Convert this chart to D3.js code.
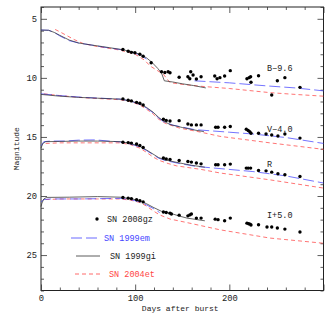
<!DOCTYPE html>
<html lang="en">
<head>
<meta charset="UTF-8">
<title>SN 2008gz light curves</title>
<script src="https://d3js.org/d3.v7.min.js"></script>
<style>
    body { margin: 0; background: #fff; }
    text { font-family: "Liberation Mono", "DejaVu Sans Mono", monospace; font-size: 8px; fill: #222; }
    .domain { display: none; }
    .tick line { stroke: #333; stroke-width: 0.8px; }
</style>
</head>
<body>
<svg width="331" height="331"></svg>
<script>
    // SN 2008gz photometry (B-9.6, V-4.0, R, I+5.0)
    const dotsB = [[87,7.6],[92.6,7.75],[96,7.84],[99.7,7.87],[105,8.0],[108.5,8.17],[117,8.72],[128,9.48],[131.5,9.55],[135,9.48],[137,9.56],[146.7,9.95],[156,9.9],[158,10.07],[159,9.48],[161.5,9.76],[165,10.1],[170,9.9],[184.5,9.84],[187,10.07],[190,9.98],[195,9.84],[201,9.39],[218.7,10.07],[221,9.98],[222.6,9.9],[223,10.37],[231,9.82],[245,11.45],[251,10.24],[259,9.98],[275,10.8]];
    const dotsV = [[87,11.78],[92.6,11.9],[96,11.95],[101.5,12.07],[105,12.15],[108.5,12.3],[130,13.5],[133,13.6],[137,13.65],[146.7,13.62],[156,13.9],[159.7,13.98],[165,13.98],[170,13.98],[185.5,14.18],[188,14.18],[195,14.18],[201,14.12],[218,14.35],[220,14.46],[221.6,14.55],[223,14.69],[231,14.69],[239,14.75],[245,14.83],[251.6,14.92],[259,14.75],[275,15.1]];
    const dotsR = [[87,15.45],[92.6,15.48],[96,15.52],[101.5,15.6],[105,15.72],[108.5,15.9],[130,16.78],[133,16.86],[137,16.9],[146.7,17.0],[156,17.08],[159.7,17.13],[165,17.2],[170,17.28],[185.5,17.36],[188,17.36],[195,17.36],[201,17.3],[218,17.64],[220,17.64],[222.6,17.64],[231,17.84],[239,17.87],[245,17.98],[251.6,18.12],[259,18.2],[275,18.35]];
    const dotsI = [[87,20.13],[92.6,20.18],[96,20.22],[101.5,20.32],[105,20.4],[108.5,20.5],[130,21.36],[133,21.4],[137,21.45],[138.5,21.53],[146.7,21.62],[156,21.68],[158,21.6],[159.7,21.53],[165,21.87],[170,21.87],[185,21.96],[188,22.0],[195,22.1],[201,21.87],[218.7,22.3],[220.5,22.35],[222,22.38],[223,22.46],[231,22.44],[240,22.63],[245,22.63],[251,22.71],[259,22.8],[275,23.05]];

    // SN 1999em (null = gap)
    const em = [
        [[0,5.95],[8,5.97],[14,6.15],[20,6.45],[30,6.85],[40,7.05],[52,7.2],[65,7.38],[84,7.6],[95,7.8],[105,8.05],[112,8.4],null,[163,10.25],[200,10.42],[240,10.68],[270,10.85],[300,11.1]],
        [[0,11.35],[20,11.5],[45,11.65],[84,11.8],[95,11.95],[105,12.25],[112,12.55],[119,12.95],[125,13.4],[130,13.7],[140,14.0],[163,14.38],[200,14.6],[225,14.75],[260,15.05],[300,15.55]],
        [[0,15.75],[3,15.4],[10,15.35],[25,15.35],[40,15.27],[58,15.25],[72,15.35],[84,15.42],[95,15.6],[105,15.85],[112,16.15],[119,16.5],[125,16.8],[132,17.0],[147,17.25],[165,17.5],[225,17.93],[260,18.3],[300,18.9]],
        [[0,20.5],[3,20.3],[10,20.25],[40,20.25],[84,20.2],[95,20.3],[105,20.5],[112,20.75],[119,21.05],[126,21.4]]
    ];
    // SN 1999gi
    const gi = [
        [[0,5.95],[8,5.97],[14,6.15],[20,6.4],[30,6.8],[40,7.05],[52,7.2],[65,7.35],[84,7.58],[95,7.75],[105,8.0],[112,8.3],[118,8.7],[124,9.2],[128,9.6],[131,10.25],[140,10.35],[150,10.5],[162,10.65],[175,10.85]],
        [[0,11.4],[20,11.55],[40,11.65],[60,11.72],[84,11.8],[95,11.95],[105,12.2],[112,12.5],[119,12.9],[125,13.35],[130,13.65],[137,13.95],[150,14.2],[162,14.4],[173,14.55]],
        [[0,15.95],[2,15.55],[5,15.4],[20,15.38],[40,15.35],[60,15.35],[84,15.4],[95,15.55],[105,15.8],[112,16.1],[119,16.45],[125,16.75],[132,16.95],[147,17.2],[160,17.4],[174,17.56]],
        [[0,20.9],[1,20.6],[3,20.25],[6,20.12],[30,20.1],[60,20.05],[84,20.1],[95,20.22],[105,20.4],[112,20.65],[119,20.95],[128,21.3],[137,21.45],[147,21.7],[155,21.87],[174,22.1]]
    ];
    // SN 2004et
    const et = [
        [[15,5.9],[20,6.1],[27,6.4],[35,6.75],[45,7.1],[60,7.35],[84,7.65],[100,8.0],[110,8.5],[116,9.0],[123,9.35],[130,9.7],[137,10.4],[150,10.55],[168,10.7],[200,10.9],[243,11.25],[270,11.4],[300,11.55]],
        [[3,11.35],[20,11.5],[45,11.68],[84,11.85],[95,12.0],[105,12.3],[112,12.65],[119,13.05],[125,13.5],[132,13.85],[147,14.25],[170,14.6],[190,14.95],[243,15.5],[300,16.05]],
        [[5,15.55],[20,15.5],[45,15.5],[84,15.5],[95,15.65],[105,15.95],[112,16.3],[119,16.7],[126,17.0],[135,17.25],[144,17.45],[170,17.75],[190,18.05],[243,18.63],[300,19.33]],
        [[5,20.3],[20,20.25],[60,20.25],[84,20.25],[95,20.35],[105,20.55],[112,20.85],[119,21.25],[126,21.6],[137,21.95],[155,22.25],[190,22.86],[243,23.56],[300,24.0]]
    ];

    const bandLabels = ["B\u22129.6", "V\u22124.0", "R", "I+5.0"];
    const bandLabelMags = [9.2, 14.3, 17.3, 21.6];
    const legendNames = ["SN 2008gz", "SN 1999em", "SN 1999gi", "SN 2004et"];

    const svg = d3.select("svg");
    const x = d3.scaleLinear().domain([0, 300]).range([41, 323.5]);
    const y = d3.scaleLinear().domain([4, 28]).range([7, 290.5]);

    const line = d3.line()
        .defined(d => d !== null)
        .x(d => x(d[0]))
        .y(d => y(d[1]));

    // frame
    svg.append("rect")
        .attr("x", x(0)).attr("y", y(4))
        .attr("width", x(300) - x(0)).attr("height", y(28) - y(4))
        .attr("fill", "none").attr("stroke", "#222").attr("stroke-width", 1);

    // axes: major + minor on all sides, ticks inward
    const xMajor = d3.range(0, 301, 100), xMinor = d3.range(0, 301, 20).filter(v => v % 100);
    const yMajor = d3.range(5, 26, 5), yMinor = d3.range(4, 29, 1).filter(v => v % 5);

    svg.append("g").attr("transform", `translate(0,${y(28)})`)
        .call(d3.axisBottom(x).tickValues(xMajor).tickSize(-6).tickPadding(4).tickFormat(d => d < 300 ? d : ""));
    svg.append("g").attr("transform", `translate(0,${y(28)})`)
        .call(d3.axisBottom(x).tickValues(xMinor).tickSize(-3).tickFormat(""));
    svg.append("g").attr("transform", `translate(0,${y(4)})`)
        .call(d3.axisTop(x).tickValues(xMajor).tickSize(-6).tickFormat(""));
    svg.append("g").attr("transform", `translate(0,${y(4)})`)
        .call(d3.axisTop(x).tickValues(xMinor).tickSize(-3).tickFormat(""));

    svg.append("g").attr("transform", `translate(${x(0)},0)`)
        .call(d3.axisLeft(y).tickValues(yMajor).tickSize(-6).tickPadding(4).tickFormat(d3.format("d")));
    svg.append("g").attr("transform", `translate(${x(0)},0)`)
        .call(d3.axisLeft(y).tickValues(yMinor).tickSize(-3).tickFormat(""));
    svg.append("g").attr("transform", `translate(${x(300)},0)`)
        .call(d3.axisRight(y).tickValues(yMajor).tickSize(-6).tickFormat(""));
    svg.append("g").attr("transform", `translate(${x(300)},0)`)
        .call(d3.axisRight(y).tickValues(yMinor).tickSize(-3).tickFormat(""));

    svg.selectAll(".tick text").style("font-size", "8.8px").attr("fill", "#222");

    // model curves
    const styles = [
        { data: et, color: "#ff4545", dash: "4,3" },
        { data: em, color: "#4545ff", dash: "11,4" },
        { data: gi, color: "#333", dash: null }
    ];
    styles.forEach(s => {
        svg.append("g").selectAll("path")
            .data(s.data)
            .enter().append("path")
            .attr("d", line)
            .attr("fill", "none")
            .attr("stroke", s.color)
            .attr("stroke-width", 0.75)
            .attr("stroke-dasharray", s.dash);
    });

    // observed points
    [dotsB, dotsV, dotsR, dotsI].forEach(ds => {
        svg.append("g").selectAll("circle")
            .data(ds)
            .enter().append("circle")
            .attr("cx", d => x(d[0]))
            .attr("cy", d => y(d[1]))
            .attr("r", 1.7)
            .attr("fill", "#000");
    });

    // band labels
    svg.append("g").selectAll("text")
        .data(bandLabels)
        .enter().append("text")
        .attr("x", 267)
        .attr("y", (d, i) => y(bandLabelMags[i]))
        .attr("dy", "0.35em")
        .style("font-size", "8.5px")
        .text(d => d);

    // legend
    const lg = svg.append("g");
    const legY = [219, 238, 256, 274];
    lg.append("circle").attr("cx", 97).attr("cy", legY[0]).attr("r", 1.7).attr("fill", "#000");
    [["#4545ff", "11,4"], ["#333", null], ["#ff4545", "4,3"]].forEach((s, i) => {
        lg.append("line")
            .attr("x1", 71 + (i === 1 ? 5 : i === 2 ? 4 : 0)).attr("x2", 100)
            .attr("y1", legY[i + 1]).attr("y2", legY[i + 1])
            .attr("stroke", s[0]).attr("stroke-width", 0.8)
            .attr("stroke-dasharray", s[1]);
    });
    const legColors = ["#222", "#4545ff", "#222", "#ff4545"];
    const legX = [107, 104, 110, 109];
    lg.selectAll("text")
        .data(legendNames)
        .enter().append("text")
        .attr("x", (d, i) => legX[i])
        .attr("y", (d, i) => legY[i])
        .attr("dy", "0.35em")
        .style("font-size", "8.5px")
        .style("fill", (d, i) => legColors[i])
        .text(d => d);

    // axis titles
    svg.append("text")
        .attr("x", (x(0) + x(300)) / 2 - 2)
        .attr("y", 311)
        .attr("text-anchor", "middle")
        .text("Days after burst");
    svg.append("text")
        .attr("transform", `translate(19,${y(16)}) rotate(-90)`)
        .attr("text-anchor", "middle")
        .text("Magnitude");
</script>
</body>
</html>
